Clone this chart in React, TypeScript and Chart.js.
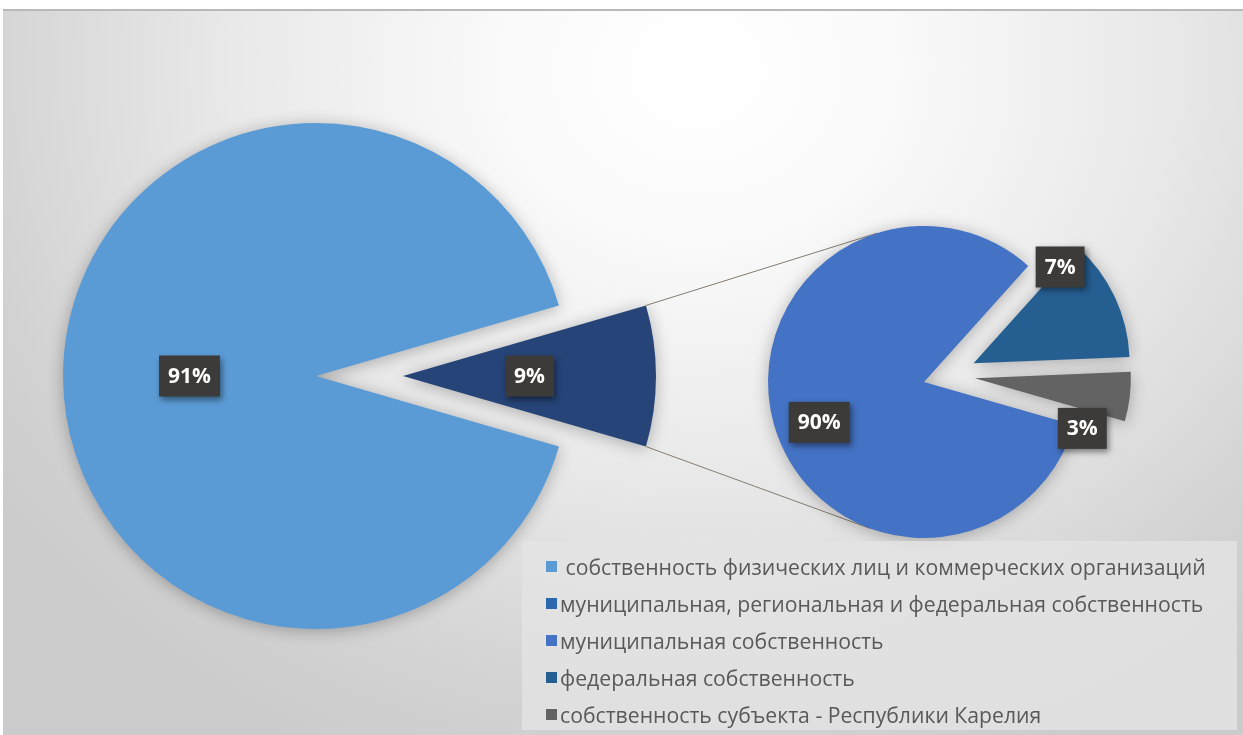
import React, { useEffect, useRef } from "react";
import { Chart, registerables } from "chart.js";

Chart.register(...registerables);

// ---------- data ----------
const bigCategories = [
  " собственность физических лиц и коммерческих организаций",
  "муниципальная, региональная и федеральная собственность",
];
const bigValues = [91, 9];
const bigLabels = ["91%", "9%"];

const smallCategories = [
  "муниципальная собственность",
  "федеральная собственность",
  "собственность субъекта - Республики Карелия",
];
const smallValues = [82.2, 12.7, 5.1];
const smallLabels = ["90%", "7%", "3%"];

// ---------- styles ----------
const bigColors = ["#5B9BD5", "#264478"];
const smallColors = ["#4472C4", "#255E91", "#636363"];
const legendColors = ["#5B9BD5", "#2B67AE", "#4472C4", "#255E91", "#636363"];

const W = 1243;
const H = 735;

type PieStyle = {
  explode: number[];
  explodeTurn: number[];
  labelT: number[];
  labelR: number[];
  labels: string[];
};

function drawLabel(ctx: CanvasRenderingContext2D, text: string, x: number, y: number) {
  ctx.save();
  ctx.font = 'bold 21px "Open Sans", "Noto Sans", sans-serif';
  const w = ctx.measureText(text).width + 18;
  const h = 41;
  ctx.shadowColor = "rgba(0,0,0,0.45)";
  ctx.shadowBlur = 6;
  ctx.shadowOffsetX = 2;
  ctx.shadowOffsetY = 3;
  ctx.fillStyle = "#3c3b3a";
  ctx.fillRect(x - w / 2, y - h / 2, w, h);
  ctx.shadowColor = "transparent";
  ctx.fillStyle = "#ffffff";
  ctx.textAlign = "center";
  ctx.textBaseline = "middle";
  ctx.fillText(text, x, y + 1);
  ctx.restore();
}

function arcShift(arc: any, e: number, turnDeg: number) {
  const mid = (arc.startAngle + arc.endAngle) / 2 + (turnDeg * Math.PI) / 180;
  return { dx: Math.cos(mid) * e, dy: Math.sin(mid) * e };
}

function makePiePlugin(id: string, style: PieStyle, before?: (chart: any) => void) {
  return {
    id,
    beforeDatasetsDraw(chart: any) {
      if (before) before(chart);
    },
    beforeDatasetDraw(chart: any, args: any) {
      const ctx: CanvasRenderingContext2D = chart.ctx;
      args.meta.data.forEach((arc: any, i: number) => {
        const { dx, dy } = arcShift(arc, style.explode[i] || 0, style.explodeTurn[i] || 0);
        ctx.save();
        ctx.shadowColor = "rgba(0,0,0,0.28)";
        ctx.shadowBlur = 16;
        ctx.shadowOffsetX = 0;
        ctx.shadowOffsetY = 2;
        ctx.translate(dx, dy);
        arc.draw(ctx);
        ctx.restore();
      });
      return false;
    },
    afterDatasetsDraw(chart: any) {
      const ctx: CanvasRenderingContext2D = chart.ctx;
      const meta = chart.getDatasetMeta(0);
      meta.data.forEach((arc: any, i: number) => {
        const { dx, dy } = arcShift(arc, style.explode[i] || 0, style.explodeTurn[i] || 0);
        const a = arc.startAngle + (arc.endAngle - arc.startAngle) * style.labelT[i];
        const r = arc.outerRadius * style.labelR[i];
        drawLabel(ctx, style.labels[i], arc.x + dx + Math.cos(a) * r, arc.y + dy + Math.sin(a) * r);
      });
    },
  };
}

export default function App() {
  const bigRef = useRef<HTMLCanvasElement>(null);
  const smallRef = useRef<HTMLCanvasElement>(null);

  useEffect(() => {
    document.body.style.margin = "0";

    const bigStyle: PieStyle = {
      explode: [0, 87],
      explodeTurn: [0, 0],
      labelT: [0.5, 0.5],
      labelR: [0.5, 0.5],
      labels: bigLabels,
    };
    const smallStyle: PieStyle = {
      explode: [0, 53, 51],
      explodeTurn: [0, 4.6, -11],
      labelT: [0.483, 0.0, 1.49],
      labelR: [0.72, 0.83, 0.76],
      labels: smallLabels,
    };

    const bigTotal = bigValues.reduce((a, b) => a + b, 0);
    const bigRotation = 90 + ((bigValues[1] / bigTotal) * 360) / 2;

    const big = new Chart(bigRef.current as HTMLCanvasElement, {
      type: "pie",
      data: {
        labels: bigCategories,
        datasets: [{ data: bigValues, backgroundColor: bigColors, borderWidth: 0 }],
      },
      options: {
        responsive: false,
        animation: false,
        events: [],
        rotation: bigRotation,
        radius: 253,
        layout: { padding: { left: 16, right: 627, top: 76, bottom: 59 } },
        plugins: { legend: { display: false }, tooltip: { enabled: false } },
      } as any,
      plugins: [makePiePlugin("bigPie", bigStyle)],
    });

    const connectors = (chart: any) => {
      const bigMeta = big.getDatasetMeta(0);
      const other: any = bigMeta.data[1];
      const { dx, dy } = arcShift(other, bigStyle.explode[1], bigStyle.explodeTurn[1]);
      const R = other.outerRadius;
      const p1 = { x: other.x + dx + Math.cos(other.startAngle) * R, y: other.y + dy + Math.sin(other.startAngle) * R };
      const p2 = { x: other.x + dx + Math.cos(other.endAngle) * R, y: other.y + dy + Math.sin(other.endAngle) * R };
      const sArc: any = chart.getDatasetMeta(0).data[0];
      const c = { x: sArc.x, y: sArc.y };
      const r = sArc.outerRadius;
      const ctx: CanvasRenderingContext2D = chart.ctx;
      ctx.save();
      ctx.strokeStyle = "#857b6e";
      ctx.lineWidth = 1;
      [
        { p: p1, sign: -1 },
        { p: p2, sign: 1 },
      ].forEach(({ p, sign }) => {
        const d = Math.hypot(c.x - p.x, c.y - p.y);
        const base = Math.atan2(c.y - p.y, c.x - p.x);
        const alpha = Math.asin(r / d);
        const dir = base + sign * alpha;
        const L = Math.sqrt(d * d - r * r);
        ctx.beginPath();
        ctx.moveTo(p.x, p.y);
        ctx.lineTo(p.x + Math.cos(dir) * L, p.y + Math.sin(dir) * L);
        ctx.stroke();
      });
      ctx.restore();
    };

    const small = new Chart(smallRef.current as HTMLCanvasElement, {
      type: "pie",
      data: {
        labels: smallCategories,
        datasets: [{ data: smallValues, backgroundColor: smallColors, borderWidth: 0 }],
      },
      options: {
        responsive: false,
        animation: false,
        events: [],
        rotation: 106,
        radius: 156,
        layout: { padding: { left: 624, right: 19, top: 82, bottom: 53 } },
        plugins: { legend: { display: false }, tooltip: { enabled: false } },
      } as any,
      plugins: [makePiePlugin("smallPie", smallStyle, connectors)],
    });

    return () => {
      small.destroy();
      big.destroy();
    };
  }, []);

  const legendNames = [...bigCategories, ...smallCategories];

  return (
    <div
      style={{
        position: "absolute",
        left: 0,
        top: 0,
        width: W,
        height: H,
        overflow: "hidden",
        background: "#ffffff",
      }}
    >
      <div
        style={{
          position: "absolute",
          left: 3,
          top: 9,
          width: W - 3,
          height: H - 9,
          borderTop: "2px solid #b9b9b9",
          boxSizing: "border-box",
          background:
            "radial-gradient(ellipse 70% 105% at 56% 8%, #ffffff 0%, #fafafa 22%, #e8e8e8 55%, #d2d2d2 85%, #cbcbcb 100%)",
        }}
      />
      <canvas
        ref={bigRef}
        width={W}
        height={H}
        style={{ position: "absolute", left: 0, top: 0, width: W, height: H }}
      />
      <canvas
        ref={smallRef}
        width={W}
        height={H}
        style={{ position: "absolute", left: 0, top: 0, width: W, height: H }}
      />
      <div
        style={{
          position: "absolute",
          left: 522,
          top: 541,
          width: 715,
          height: 189,
          background: "rgba(228,228,228,0.8)",
          fontFamily: '"Open Sans", "Noto Sans", sans-serif',
          fontSize: 21.2,
          color: "#595959",
        }}
      >
        {legendNames.map((name, i) => (
          <div
            key={i}
            style={{
              position: "absolute",
              left: 24,
              top: 10 + i * 37,
              height: 30,
              display: "flex",
              alignItems: "center",
              whiteSpace: "pre",
            }}
          >
            <span
              style={{
                display: "inline-block",
                width: 11,
                height: 11,
                background: legendColors[i],
                marginRight: 3,
              }}
            />
            <span>{name}</span>
          </div>
        ))}
      </div>
    </div>
  );
}
